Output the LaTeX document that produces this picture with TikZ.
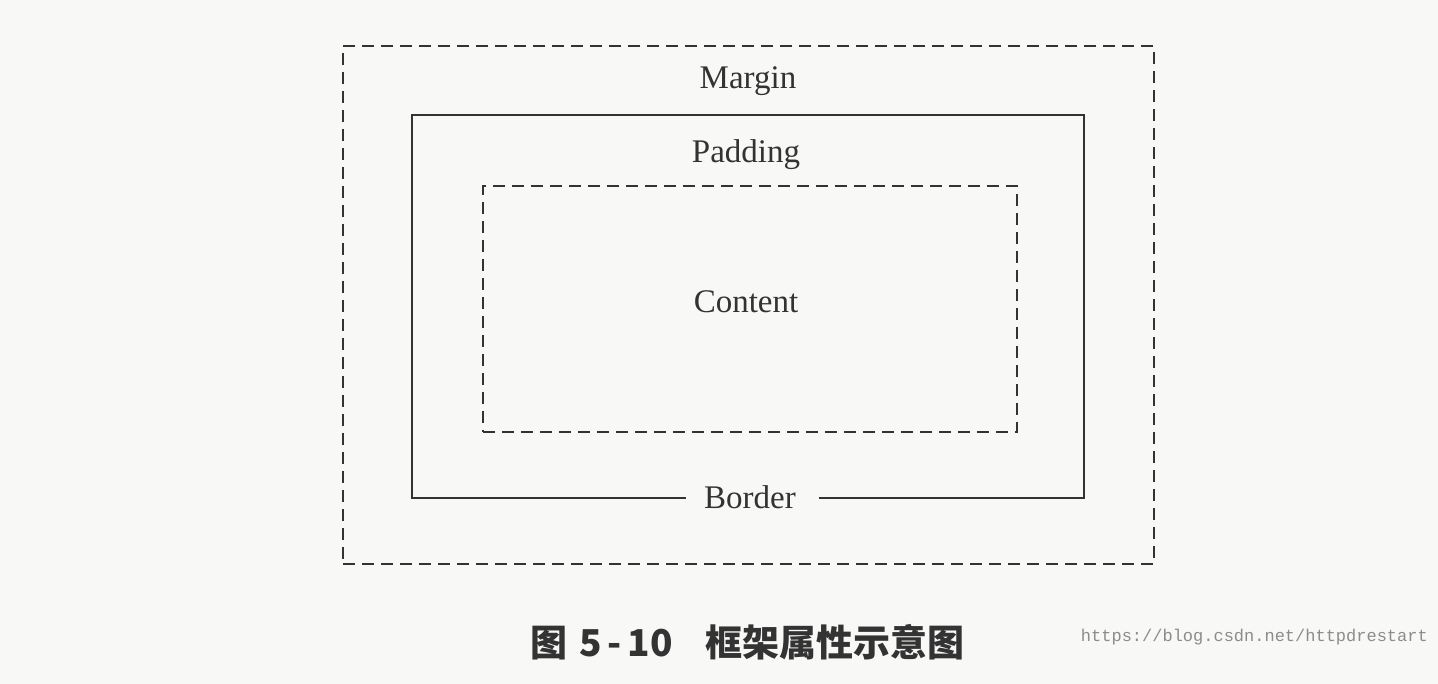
\documentclass[tikz,border=0pt]{standalone}
\usepackage{fontspec}
\setmainfont{Liberation Serif}
\newfontfamily\cjk{Noto Sans CJK SC}
\newfontfamily\wmfont{Liberation Mono}
\definecolor{ink}{HTML}{333333}
\definecolor{paper}{HTML}{F8F8F6}
\begin{document}
\begin{tikzpicture}[x=1pt,y=-1pt,
  boxdash/.style={draw=ink, line width=2.3pt, dash pattern=on 12pt off 7pt},
  boxsolid/.style={draw=ink, line width=2.3pt},
  lbl/.style={text=ink, font=\fontsize{33}{33}\selectfont, inner sep=0pt, anchor=base}]
\fill[paper] (0,0) rectangle (1438,684);
\useasboundingbox (0,0) rectangle (1438,684);
% outer margin box
\node[boxdash, minimum width=811pt, minimum height=518pt, inner sep=0pt] (margin) at (748.5,305) {};
% content box
\node[boxdash, minimum width=534pt, minimum height=246pt, inner sep=0pt] (content) at (750,309) {};
% labels
\node[lbl] (mlabel) at (748,89) {Margin};
\node[lbl] (plabel) at (746,163) {Padding};
\node[lbl] (clabel) at (746,313) {Content};
\node[lbl] (border) at (750,508) {Border};
% border box with gap for label
\coordinate (bl) at (412,498);
\coordinate (tl) at (412,115);
\coordinate (tr) at (1084,115);
\coordinate (br) at (1084,498);
\coordinate (gapl) at (686,498);
\coordinate (gapr) at (819,498);
\draw[boxsolid, line join=miter] (gapl) -- (bl) -- (tl) -- (tr) -- (br) -- (gapr);
% caption
\node[text=ink, inner sep=0pt, anchor=base west, font=\cjk\bfseries\fontsize{37}{37}\selectfont] (cap) at (530,656) {图\hspace{12pt}5\hspace{6pt}-\hspace{6pt}10\hspace{33pt}框架属性示意图};
% watermark
\node[text=black!45, inner sep=0pt, anchor=base east, font=\wmfont\fontsize{17}{17}\selectfont] (wm) at (1428,641) {https://blog.csdn.net/httpdrestart};
\end{tikzpicture}
\end{document}
